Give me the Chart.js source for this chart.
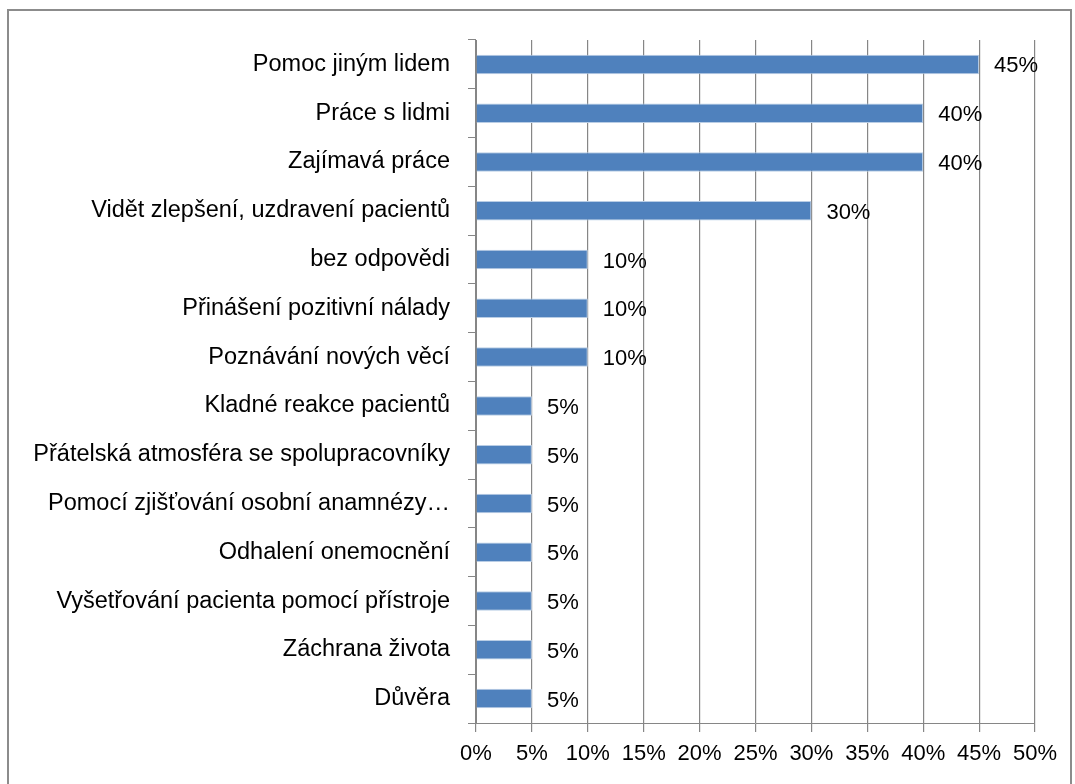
<!DOCTYPE html>
<html>
<head>
<meta charset="utf-8">
<script src="https://cdn.jsdelivr.net/npm/chart.js@4"></script>
<style>
  html, body { margin: 0; padding: 0; background: #fff; }
  #wrap { position: relative; width: 1075px; height: 784px; }
  #frame { position: absolute; left: 7px; top: 9px; width: 1065px; height: 800px; border: 2px solid #8c8c8c; box-sizing: border-box; }
  canvas { position: absolute; left: 0; top: 0; }
</style>
</head>
<body>
<div id="wrap">
  <div id="frame"></div>
  <canvas id="myChart" width="1075" height="784"></canvas>
</div>
<script>
// chart data
var categories = [
    'Pomoc jiným lidem',
    'Práce s lidmi',
    'Zajímavá práce',
    'Vidět zlepšení, uzdravení pacientů',
    'bez odpovědi',
    'Přinášení pozitivní nálady',
    'Poznávání nových věcí',
    'Kladné reakce pacientů',
    'Přátelská atmosféra se spolupracovníky',
    'Pomocí zjišťování osobní anamnézy…',
    'Odhalení onemocnění',
    'Vyšetřování pacienta pomocí přístroje',
    'Záchrana života',
    'Důvěra'
];
var values = [45, 40, 40, 30, 10, 10, 10, 5, 5, 5, 5, 5, 5, 5];
var xTicks = [0, 5, 10, 15, 20, 25, 30, 35, 40, 45, 50];

var FAMILY = 'Liberation Sans, Arial, sans-serif';
var LABEL_FONT = { family: FAMILY, size: 23.5 };
var NUM_FONT = { family: FAMILY, size: 22 };

// draws the value labels to the right of each bar
var barLabels = {
    id: 'barLabels',
    afterDatasetsDraw: function(chart) {
        var ctx = chart.ctx;
        var meta = chart.getDatasetMeta(0);
        ctx.save();
        ctx.font = NUM_FONT.size + 'px ' + FAMILY;
        ctx.fillStyle = '#000';
        ctx.textBaseline = 'middle';
        ctx.textAlign = 'left';
        meta.data.forEach(function(bar, i) {
            ctx.fillText(values[i] + '%', bar.x + 15, bar.y + 2);
        });
        ctx.restore();
    }
};

var ctx = document.getElementById('myChart').getContext('2d');
var myChart = new Chart(ctx, {
    type: 'bar',
    data: {
        labels: categories,
        datasets: [{
            data: values,
            backgroundColor: '#4F81BD',
            borderColor: '#B9CDE5',
            borderWidth: 1,
            categoryPercentage: 1,
            barPercentage: 0.4
        }]
    },
    options: {
        indexAxis: 'y',
        responsive: false,
        animation: false,
        layout: { padding: { top: 40, right: 40, left: 0, bottom: 0 } },
        plugins: {
            legend: { display: false },
            tooltip: { enabled: false }
        },
        scales: {
            x: {
                min: 0,
                max: 50,
                afterBuildTicks: function(scale) {
                    scale.ticks = xTicks.map(function(v) { return { value: v }; });
                },
                afterFit: function(scale) { scale.height = 784 - 723; },
                grid: { color: '#868686', lineWidth: 1.2, tickLength: 9 },
                border: { color: '#868686' },
                ticks: {
                    color: '#000',
                    font: NUM_FONT,
                    padding: 9,
                    maxRotation: 0,
                    callback: function(v) { return v + '%'; }
                }
            },
            y: {
                afterFit: function(scale) { scale.width = 476; },
                grid: { drawOnChartArea: false, offset: true, color: '#868686', tickLength: 8 },
                border: { color: '#868686' },
                ticks: { color: '#000', font: LABEL_FONT, padding: 18, autoSkip: false }
            }
        }
    },
    plugins: [barLabels]
});
</script>
</body>
</html>
